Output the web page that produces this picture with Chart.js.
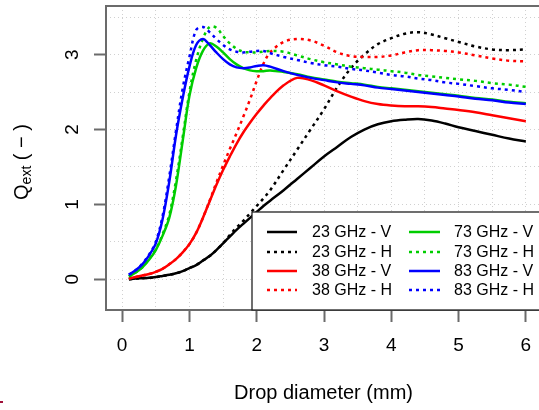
<!DOCTYPE html>
<html><head><meta charset="utf-8">
<script src="https://cdn.jsdelivr.net/npm/chart.js@4"></script>
<style>html,body{margin:0;padding:0;overflow:hidden;background:#fff}#wrap{width:560px;height:410px}</style>
</head><body><div id="wrap"><canvas id="c" width="560" height="410"></canvas></div>
<script>
// Drop diameter (mm)
const diam = [0.1,0.2,0.3,0.4,0.5,0.6,0.7,0.8,0.9,1.0,1.1,1.2,1.3,1.4,1.5,1.6,1.7,1.8,1.9,2.0,2.1,2.2,2.4,2.6,2.8,3.0,3.2,3.4,3.6,3.8,4.0,4.2,4.4,4.6,4.8,5.0,5.25,5.5,5.75,6.0];
// Q_ext series
const q23V = [0.00,0.01,0.015,0.02,0.03,0.045,0.06,0.08,0.11,0.15,0.19,0.25,0.31,0.39,0.48,0.57,0.66,0.74,0.82,0.90,0.98,1.05,1.19,1.34,1.49,1.64,1.77,1.90,2.00,2.07,2.11,2.13,2.14,2.12,2.08,2.03,1.98,1.93,1.88,1.84];
const q23H = [0.00,0.01,0.015,0.02,0.03,0.045,0.06,0.08,0.11,0.15,0.19,0.25,0.31,0.39,0.48,0.59,0.69,0.78,0.88,0.98,1.08,1.19,1.46,1.73,2.00,2.27,2.57,2.82,3.00,3.14,3.22,3.28,3.30,3.27,3.22,3.17,3.11,3.07,3.06,3.07];
const q38V = [0.01,0.03,0.05,0.07,0.10,0.14,0.20,0.27,0.36,0.47,0.62,0.82,1.04,1.26,1.46,1.64,1.81,1.96,2.09,2.21,2.32,2.42,2.59,2.69,2.66,2.59,2.51,2.44,2.38,2.34,2.32,2.31,2.31,2.30,2.28,2.26,2.23,2.19,2.15,2.11];
const q38H = [0.01,0.03,0.05,0.07,0.10,0.14,0.20,0.27,0.36,0.47,0.62,0.82,1.05,1.29,1.52,1.74,1.95,2.17,2.40,2.65,2.88,3.03,3.17,3.21,3.19,3.12,3.03,2.98,2.97,2.97,2.99,3.03,3.06,3.06,3.05,3.03,2.99,2.95,2.92,2.91];
const q73V = [0.04,0.09,0.16,0.26,0.39,0.58,0.82,1.25,1.85,2.45,2.82,3.05,3.15,3.11,3.03,2.94,2.87,2.82,2.79,2.78,2.78,2.79,2.77,2.74,2.70,2.67,2.64,2.62,2.60,2.57,2.55,2.53,2.51,2.49,2.47,2.45,2.42,2.40,2.37,2.35];
const q73H = [0.04,0.09,0.16,0.27,0.40,0.60,0.86,1.32,1.90,2.50,2.93,3.21,3.37,3.36,3.25,3.15,3.08,3.04,3.03,3.03,3.04,3.05,3.04,2.99,2.94,2.90,2.87,2.84,2.82,2.80,2.78,2.76,2.73,2.71,2.69,2.67,2.65,2.62,2.60,2.57];
const q83V = [0.06,0.12,0.20,0.32,0.48,0.80,1.30,1.92,2.42,2.84,3.13,3.21,3.13,3.03,2.94,2.87,2.83,2.82,2.83,2.85,2.86,2.84,2.78,2.73,2.69,2.66,2.63,2.61,2.59,2.56,2.54,2.52,2.50,2.48,2.46,2.44,2.41,2.39,2.36,2.34];
const q83H = [0.06,0.12,0.21,0.33,0.50,0.84,1.37,1.98,2.55,2.97,3.33,3.37,3.30,3.21,3.13,3.07,3.04,3.03,3.04,3.05,3.05,3.02,2.97,2.93,2.89,2.86,2.84,2.81,2.79,2.76,2.73,2.71,2.68,2.66,2.63,2.61,2.58,2.55,2.53,2.50];

const seriesNames = ['23 GHz - V','23 GHz - H','38 GHz - V','38 GHz - H','73 GHz - V','73 GHz - H','83 GHz - V','83 GHz - H'];
const xTickLabels = [0,1,2,3,4,5,6];
const yTickLabels = [0,1,2,3];
const xGrid = [0,0.5,1,1.5,2,2.5,3,3.5,4,4.5,5,5.5,6];
const yGrid = [0,0.5,1,1.5,2,2.5,3,3.5];

const seriesVals = [q23V,q23H,q38V,q38H,q73V,q73H,q83V,q83H];
const colors = ['#000000','#000000','#ff0000','#ff0000','#00cd00','#00cd00','#0000ff','#0000ff'];
const dotted = [false,true,false,true,false,true,false,true];
const DOT = [3,4];
const FONT = '"Liberation Sans", Arial, sans-serif';
const FRAME = '#6b6b6b';

const decor = {
  id: 'decor',
  afterDraw(chart) {
    const ctx = chart.ctx, a = chart.chartArea, ys = chart.scales.y;
    ctx.save();
    ctx.strokeStyle = FRAME; ctx.lineWidth = 2; ctx.setLineDash([]);
    ctx.strokeRect(a.left, a.top, a.right - a.left, a.bottom - a.top);
    ctx.fillStyle = '#000';
    ctx.font = '19px ' + FONT;
    ctx.textAlign = 'center'; ctx.textBaseline = 'alphabetic';
    yTickLabels.forEach(v => {
      const p = ys.getPixelForValue(v);
      ctx.save(); ctx.translate(78, p); ctx.rotate(-Math.PI / 2);
      ctx.fillText(String(v), 0, 0); ctx.restore();
    });
    ctx.save();
    ctx.translate(28, 162); ctx.rotate(-Math.PI / 2);
    ctx.textAlign = 'left';
    const f1 = '20px ' + FONT, f2 = '14px ' + FONT;
    ctx.font = f1; const w1 = ctx.measureText('Q').width;
    ctx.font = f2; const w2 = ctx.measureText('ext').width;
    ctx.font = f1; const w3 = ctx.measureText(' ( \u2212 )').width;
    let x0 = -(w1 + w2 + w3) / 2;
    ctx.font = f1; ctx.fillText('Q', x0, 0); x0 += w1;
    ctx.font = f2; ctx.fillText('ext', x0, 3); x0 += w2;
    ctx.font = f1; ctx.fillText(' ( \u2212 )', x0, 0);
    ctx.restore();
    ctx.font = '20px ' + FONT; ctx.textAlign = 'center'; ctx.textBaseline = 'middle';
    ctx.fillText('Drop diameter (mm)', 323.5, 393);
    const lx = 252, ly = 212, lb = a.bottom;
    ctx.fillStyle = '#fff'; ctx.fillRect(lx, ly, 400, lb - ly);
    ctx.strokeStyle = '#222'; ctx.lineWidth = 1.3; ctx.strokeRect(lx, ly, 400, lb - ly);
    const rows = [232, 252, 271, 290];
    const cols = [{x1: 267, x2: 297, tx: 312}, {x1: 409, x2: 440, tx: 454}];
    ctx.font = '16px ' + FONT; ctx.textAlign = 'left'; ctx.textBaseline = 'middle';
    seriesNames.forEach((name, i) => {
      const c = cols[Math.floor(i / 4)], y = rows[i % 4];
      ctx.strokeStyle = colors[i]; ctx.lineWidth = 2.5;
      ctx.setLineDash(dotted[i] ? DOT : []);
      ctx.beginPath(); ctx.moveTo(c.x1, y); ctx.lineTo(c.x2, y); ctx.stroke();
      ctx.setLineDash([]);
      ctx.fillStyle = '#000'; ctx.fillText(name, c.tx, y + 1);
    });
    ctx.fillStyle = '#a0103a'; ctx.fillRect(0, 401, 3, 2);
    ctx.restore();
  }
};

const gridCfg = {
  color: '#d0d0d0', lineWidth: 1, tickLength: 12, tickWidth: 2,
  tickColor: c => (c.tick && Number.isInteger(c.tick.value)) ? FRAME : 'rgba(0,0,0,0)'
};

new Chart(document.getElementById('c'), {
  type: 'line',
  data: {
    datasets: seriesNames.map((name, i) => ({
      label: name,
      data: diam.map((d, j) => ({x: d, y: seriesVals[i][j]})),
      borderColor: colors[i], borderWidth: 2.5,
      borderDash: dotted[i] ? DOT : [],
      pointRadius: 0, fill: false,
      tension: 0.35,
      order: 20 - i
    }))
  },
  options: {
    responsive: false, animation: false, devicePixelRatio: 1,
    layout: {padding: {top: 6, right: 18, left: 0, bottom: 0}},
    plugins: {legend: {display: false}, tooltip: {enabled: false}},
    scales: {
      x: {
        type: 'linear', min: -0.24, max: 6.24,
        afterBuildTicks: s => { s.ticks = xGrid.map(v => ({value: v})); },
        afterFit: s => { s.height = 100; },
        grid: gridCfg,
        border: {display: false, dash: [1, 3]},
        ticks: {
          font: {family: FONT, size: 19}, color: '#000', padding: 12,
          maxRotation: 0, autoSkip: false,
          callback: v => xTickLabels.includes(v) ? String(v) : ''
        }
      },
      y: {
        type: 'linear', min: -0.41, max: 3.65,
        afterBuildTicks: s => { s.ticks = yGrid.map(v => ({value: v})); },
        afterFit: s => { s.width = 106; },
        grid: gridCfg,
        border: {display: false, dash: [1, 3]},
        ticks: {display: false}
      }
    }
  },
  plugins: [decor]
});
</script>
</body></html>
